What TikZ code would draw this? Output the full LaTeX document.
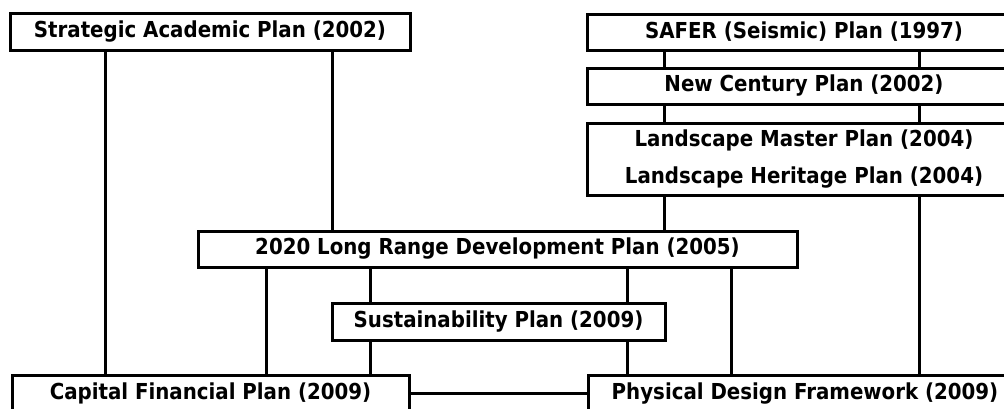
\documentclass[tikz,border=0pt]{standalone}
\usepackage{fontspec}
\setmainfont{DejaVu Sans Condensed}
\tikzset{
  plan/.style={draw, line width=3pt, rectangle, inner sep=0pt, fill=white,
    font=\fontsize{22}{37}\selectfont\bfseries, align=center},
  link/.style={line width=3pt}
}
\begin{document}
\begin{tikzpicture}[x=1pt,y=-1pt]
            % picture is 1004 x 408 px, y runs downwards
			\clip (0,0) rectangle (1004,408);
			\fill[white] (0,0) rectangle (1004,408);
            % x positions of the vertical links
			\coordinate (xa) at (105,0);
			\coordinate (xb) at (266,0);
			\coordinate (xc) at (332,0);
			\coordinate (xd) at (370,0);
			\coordinate (xe) at (627,0);
			\coordinate (xf) at (664,0);
			\coordinate (xg) at (731,0);
			\coordinate (xh) at (919,0);
            % left column
			\node[plan, minimum width=400, minimum height=37] (sap) at (210,32) {Strategic Academic Plan (2002)};
			\node[plan, minimum width=397, minimum height=37] (cfp) at (210.5,393.5) {Capital Financial Plan (2009)};
            % right column, runs past the right edge
			\node[plan, minimum width=434, minimum height=36] (safer) at (804,32) {SAFER (Seismic) Plan (1997)};
			\node[plan, minimum width=434, minimum height=36] (ncp) at (804,86) {New Century Plan (2002)};
			\node[plan, minimum width=434, minimum height=72] (land) at (804,159.5) {Landscape Master Plan (2004)\\Landscape Heritage Plan (2004)};
			\node[plan, minimum width=434, minimum height=37] (pdf) at (805,393.5) {Physical Design Framework (2009)};
            % middle
			\node[plan, minimum width=599, minimum height=36] (lrdp) at (497.5,249) {2020 Long Range Development Plan (2005)};
			\node[plan, minimum width=333, minimum height=37] (sust) at (498.5,321.5) {Sustainability Plan (2009)};
            % links
			\draw[link] (sap.south -| xa) -- (cfp.north -| xa);
			\draw[link] (sap.south -| xc) -- (lrdp.north -| xc);
			\draw[link] (safer.south -| xf) -- (ncp.north -| xf);
			\draw[link] (safer.south -| xh) -- (ncp.north -| xh);
			\draw[link] (ncp.south -| xf) -- (land.north -| xf);
			\draw[link] (ncp.south -| xh) -- (land.north -| xh);
			\draw[link] (land.south -| xf) -- (lrdp.north -| xf);
			\draw[link] (land.south -| xh) -- (pdf.north -| xh);
			\draw[link] (lrdp.south -| xb) -- (cfp.north -| xb);
			\draw[link] (lrdp.south -| xd) -- (sust.north -| xd);
			\draw[link] (lrdp.south -| xe) -- (sust.north -| xe);
			\draw[link] (lrdp.south -| xg) -- (pdf.north -| xg);
			\draw[link] (sust.south -| xd) -- (cfp.north -| xd);
			\draw[link] (sust.south -| xe) -- (pdf.north -| xe);
			\draw[link] (cfp.east) -- (pdf.west);
		\end{tikzpicture}
\end{document}
